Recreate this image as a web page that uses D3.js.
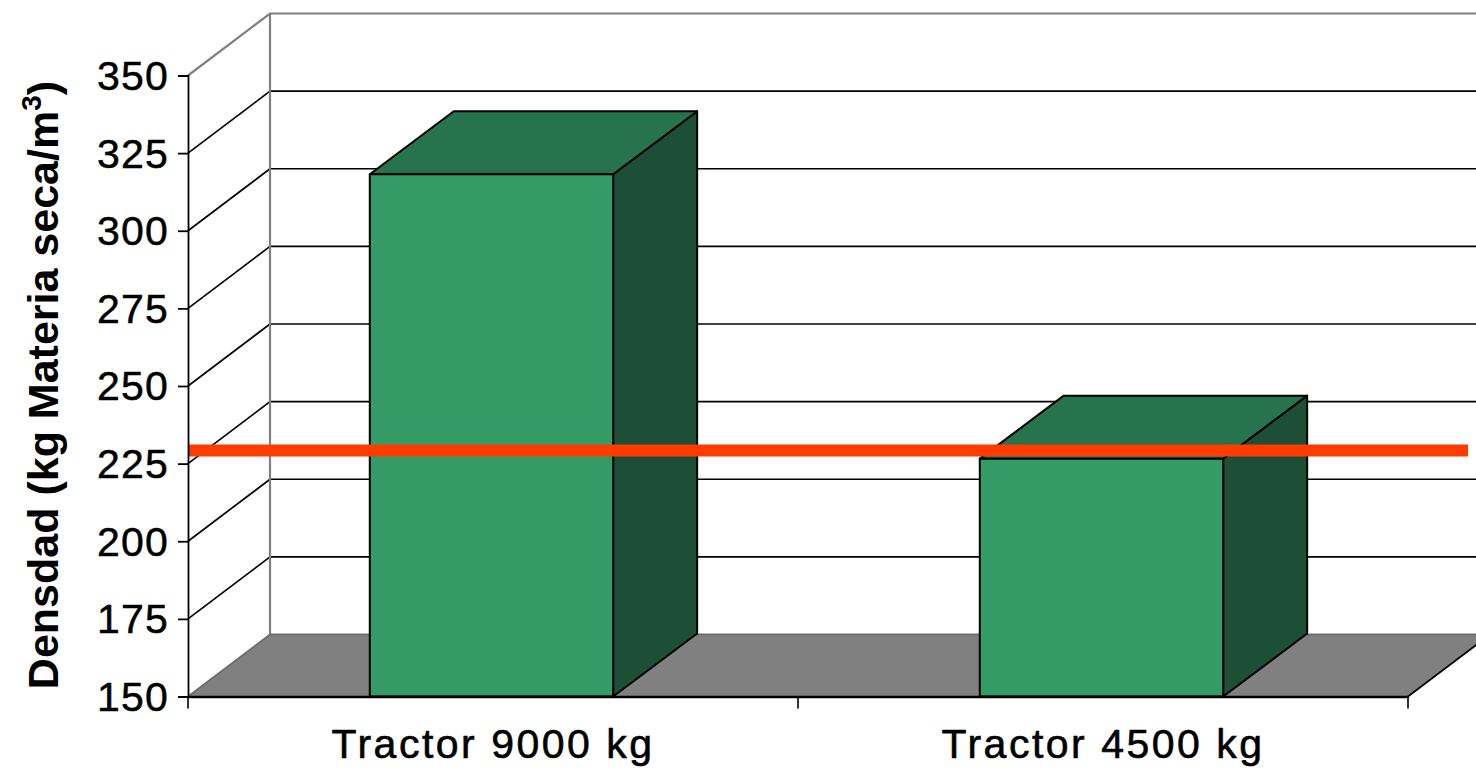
<!DOCTYPE html>
<html>
<head>
<meta charset="utf-8">
<script src="https://cdn.jsdelivr.net/npm/d3@7"></script>
<style>
    html, body { margin: 0; padding: 0; background: #fff; }
    svg { display: block; }
    text { font-family: "Liberation Sans", Arial, sans-serif; fill: #000; }
</style>
</head>
<body>
<svg id="chart" width="1476" height="768"></svg>
<script>
const categories = ["Tractor 9000 kg", "Tractor 4500 kg"];
const densities = [318.2, 226.6];
const referenceLine = [229.2, 229.2];
const yTicks = [150, 175, 200, 225, 250, 275, 300, 325, 350];

const width = 1476;
const height = 768;
const plotLeft = 188;
const plotRight = 1408;
const plotTop = 75.5;
const plotBottom = 696.5;
// shift of the back wall against the front plane
const depthX = 82;
const depthY = -62;
const barDepthX = 84;
const barDepthY = -63;
const barOffset = 0.298;
const barShare = 0.399;

const svg = d3.select("#chart");

const x = d3.scaleBand().domain(categories).range([plotLeft, plotRight]);
const y = d3.scaleLinear().domain([150, 350]).range([plotBottom, plotTop]);

const clip = svg.append("defs").append("clipPath").attr("id", "page");
clip.append("rect").attr("width", width).attr("height", height);
const g = svg.append("g").attr("clip-path", "url(#page)");

const poly = pts => pts.map(p => p.join(",")).join(" ");
const backY = v => y(v) + depthY;
const farRight = plotRight + depthX;

// gridlines, side wall lines
const gridTicks = yTicks.filter(t => t > 150 && t < 350);
g.selectAll("line.back")
    .data(gridTicks)
    .join("line")
    .attr("class", "back")
    .attr("x1", plotLeft + depthX).attr("x2", farRight)
    .attr("y1", backY).attr("y2", backY)
    .attr("stroke", "#000").attr("stroke-width", 1.7);
g.selectAll("line.side")
    .data(gridTicks)
    .join("line")
    .attr("class", "side")
    .attr("x1", plotLeft).attr("x2", plotLeft + depthX)
    .attr("y1", d => y(d)).attr("y2", backY)
    .attr("stroke", "#000").attr("stroke-width", 1.7);

// top edge and back corner are grey
g.append("path")
    .attr("d", `M${plotLeft},${y(350)}L${plotLeft + depthX},${backY(350)}L${farRight},${backY(350)}`)
    .attr("fill", "none").attr("stroke", "#808080").attr("stroke-width", 2.2);
g.append("line")
    .attr("x1", plotLeft + depthX).attr("x2", plotLeft + depthX)
    .attr("y1", backY(350)).attr("y2", backY(150))
    .attr("stroke", "#808080").attr("stroke-width", 2.2);

// floor
g.append("polygon")
    .attr("points", poly([
        [plotLeft, y(150)], [plotLeft + depthX, backY(150)],
        [farRight, backY(150)], [plotRight, y(150)]
    ]))
    .attr("fill", "#808080");
g.append("path")
    .attr("d", `M${plotLeft},${y(150)}L${plotLeft + depthX},${backY(150)}L${farRight},${backY(150)}`)
    .attr("fill", "none").attr("stroke", "#6e6e6e").attr("stroke-width", 1.8);
g.append("line")
    .attr("x1", plotRight).attr("x2", farRight)
    .attr("y1", y(150)).attr("y2", backY(150))
    .attr("stroke", "#000").attr("stroke-width", 1.7);

// axes
const yAxis = d3.axisLeft(y).tickValues(yTicks).tickSize(10).tickPadding(9);
const yG = svg.append("g").attr("transform", `translate(${plotLeft},0)`).call(yAxis);
yG.select(".domain").attr("stroke", "#000").attr("stroke-width", 1.8);
yG.selectAll("line").attr("stroke", "#000").attr("stroke-width", 1.8);
yG.selectAll("text")
    .attr("font-size", 41).attr("letter-spacing", 1.2).attr("dy", "0.34em")
    .attr("stroke", "#000").attr("stroke-width", 0.5);

const xAxis = d3.axisBottom(x).tickSize(0).tickPadding(32);
const xG = svg.append("g").attr("transform", `translate(0,${plotBottom})`).call(xAxis);
xG.select(".domain").attr("stroke", "#000").attr("stroke-width", 2.4);
xG.selectAll("text")
    .attr("font-size", 41).attr("letter-spacing", 2.5)
    .attr("stroke", "#000").attr("stroke-width", 0.6);
svg.selectAll("line.edge")
    .data([plotLeft, plotLeft + x.step(), plotRight])
    .join("line")
    .attr("class", "edge")
    .attr("x1", d => d).attr("x2", d => d)
    .attr("y1", plotBottom).attr("y2", plotBottom + 12)
    .attr("stroke", "#000").attr("stroke-width", 1.6);

// bars
const bars = g.selectAll("g.bar")
    .data(categories.map((c, i) => ({ c, v: densities[i] })))
    .join("g")
    .attr("class", "bar")
    .attr("stroke", "#000")
    .attr("stroke-width", 2)
    .attr("stroke-linejoin", "round");
const barL = d => x(d.c) + x.bandwidth() * barOffset;
const barR = d => barL(d) + x.bandwidth() * barShare;
bars.append("polygon")
    .attr("points", d => poly([
        [barR(d), y(d.v)], [barR(d) + barDepthX, y(d.v) + barDepthY],
        [barR(d) + barDepthX, y(150) + barDepthY], [barR(d), y(150)]
    ]))
    .attr("fill", "#1c4f35");
bars.append("polygon")
    .attr("points", d => poly([
        [barL(d), y(d.v)], [barL(d) + barDepthX, y(d.v) + barDepthY],
        [barR(d) + barDepthX, y(d.v) + barDepthY], [barR(d), y(d.v)]
    ]))
    .attr("fill", "#26734e");
bars.append("rect")
    .attr("x", barL)
    .attr("y", d => y(d.v))
    .attr("width", d => barR(d) - barL(d))
    .attr("height", d => y(150) - y(d.v))
    .attr("fill", "#349b66");

// reference line
const lineX = d3.scaleLinear().domain([0, 1]).range([plotLeft, 1468]);
const refPath = d3.line().x((d, i) => lineX(i)).y(d => y(d));
g.append("path")
    .attr("d", refPath(referenceLine))
    .attr("fill", "none")
    .attr("stroke", "#ff3c00")
    .attr("stroke-width", 12);

// y title
const title = svg.append("text")
    .attr("transform", "translate(58,385) rotate(-90)")
    .attr("text-anchor", "middle")
    .attr("font-size", 43)
    .attr("font-weight", "bold");
title.append("tspan").text("Densdad (kg Materia seca/m");
title.append("tspan").attr("font-size", 28).attr("dy", -17).text("3");
title.append("tspan").attr("dy", 17).text(")");
</script>
</body>
</html>
